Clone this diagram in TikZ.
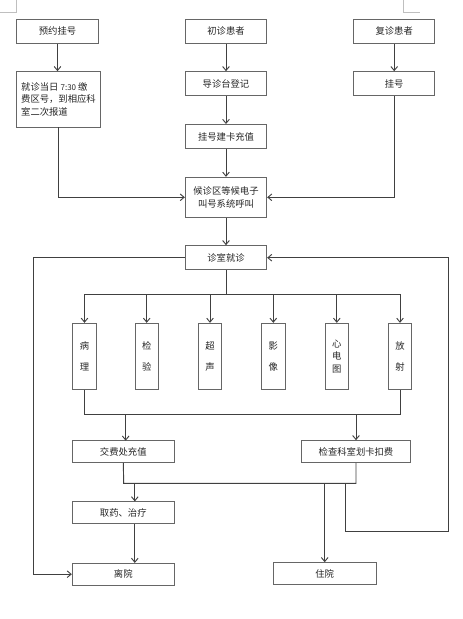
\documentclass[tikz,border=0pt]{standalone}
\usepackage{fontspec}
\newfontfamily\cjk{Noto Sans CJK SC}
\usepackage{tikz}
\usetikzlibrary{arrows.meta}

\tikzset{
  box/.style={draw=black!60, fill=white, line width=0.7pt, inner sep=1pt,
    font=\cjk\fontsize{7}{9.5}\selectfont, text=black!85},
  flow/.style={draw=black!75, line width=0.7pt, -{Straight Barb[length=3pt,width=5pt]}},
  link/.style={draw=black!75, line width=0.7pt}
}

\begin{document}
\begin{tikzpicture}[x=0.75pt,y=0.75pt,yscale=-1,xscale=1]
\useasboundingbox (0,0) rectangle (463,619);

% page corner marks
\draw [black!25, line width=0.5pt] (16.7,0) -- (16.7,12) -- (0,12) ;
\draw [black!25, line width=0.5pt] (403,0) -- (403,12) -- (420,12) ;

% top row
\node [box, minimum width=61pt, minimum height=18pt] (yuyue) at (57.5,31.3) {预约挂号};
\node [box, minimum width=61pt, minimum height=18pt] (chuzhen) at (226,31.3) {初诊患者};
\node [box, minimum width=61pt, minimum height=18pt] (fuzhen) at (394.2,31.3) {复诊患者};

% second row
\node [box, minimum width=63pt, minimum height=41.5pt, align=left] (dangri) at (58.5,99.3) {就诊当日 \fontsize{6}{9.5}\selectfont7:30\fontsize{7}{9.5}\selectfont\ 缴\\费区号，到相应科\\室二次报道};
\node [box, minimum width=61pt, minimum height=18pt] (daozhen) at (226,83.7) {导诊台登记};
\node [box, minimum width=61pt, minimum height=18pt] (guahao) at (394.2,83.7) {挂号};

% middle column
\node [box, minimum width=61pt, minimum height=18pt] (jianka) at (226,136.5) {挂号建卡充值};
\node [box, minimum width=61pt, minimum height=30pt, align=center] (houzhen) at (226,197.3) {候诊区等候电子\\叫号系统呼叫};
\node [box, minimum width=61pt, minimum height=18pt] (zhenshi) at (226,257.7) {诊室就诊};

% examination boxes
\foreach \n/\t/\xx in {bingli/病\\[6pt]理/84.5, jianyan/检\\[6pt]验/146.7, chaosheng/超\\[6pt]声/210,
  yingxiang/影\\[6pt]像/273.3, xindian/心\\电\\图/336.8, fangshe/放\\[6pt]射/400}
  \node [box, minimum width=17.5pt, minimum height=49.5pt, align=center] (\n) at (\xx,356.3) {\t};

% payment and exit
\node [box, minimum width=76.5pt, minimum height=16.2pt] (jiaofei) at (123.3,451.5) {交费处充值};
\node [box, minimum width=81.5pt, minimum height=16.2pt] (huaka) at (356,451.5) {检查科室划卡扣费};
\node [box, minimum width=76.5pt, minimum height=16.2pt] (quyao) at (123.3,512.7) {取药、治疗};
\node [box, minimum width=76.5pt, minimum height=16.2pt] (liyuan) at (123.3,574.2) {离院};
\node [box, minimum width=77pt, minimum height=16.2pt] (zhuyuan) at (324.7,573.5) {住院};

\coordinate (fenzhi) at (226,294.3);
\coordinate (huiheA) at (84.5,414);
\coordinate (huiheB) at (123.7,483.3);
\coordinate (quyaoX) at (134.8,0);

% top connectors
\draw [flow] (yuyue.south) -- (yuyue.south |- dangri.north);
\draw [flow] (chuzhen) -- (daozhen);
\draw [flow] (fuzhen) -- (guahao);
\draw [flow] (daozhen) -- (jianka);
\draw [flow] (jianka) -- (houzhen);
\draw [flow] (dangri.south) |- (houzhen.west);
\draw [flow] (guahao.south) |- (houzhen.east);
\draw [flow] (houzhen) -- (zhenshi);

% branches
\draw [link] (zhenshi.south) -- (fenzhi);
\draw [link] (bingli.north |- fenzhi) -- (fangshe.north |- fenzhi);
\foreach \n in {bingli, jianyan, chaosheng, yingxiang, xindian, fangshe}
  \draw [flow] (\n.north |- fenzhi) -- (\n.north);
\draw [link] (bingli.south) |- (huiheA) -- (fangshe.south |- huiheA) -- (fangshe.south);
\draw [flow] (125.7,414) -- (125.7,440.7);
\draw [flow] (huaka.north |- huiheA) -- (huaka.north);

% payment merge
\draw [link] (jiaofei.south) -- (huiheB) -- (huaka.south |- huiheB) -- (huaka.south);
\draw [flow] (quyaoX |- huiheB) -- (quyaoX |- quyao.north);
\draw [flow] (quyaoX |- quyao.south) -- (quyaoX |- liyuan.north);
\draw [flow] (zhuyuan.north |- huiheB) -- (zhuyuan.north);

% loops
\draw [flow] (345.7,483.3) -- (345.7,531) -- (448.3,531) |- (zhenshi.east);
\draw [flow] (zhenshi.west) -| (33.3,574.2) -- (liyuan.west);

\end{tikzpicture}
\end{document}
